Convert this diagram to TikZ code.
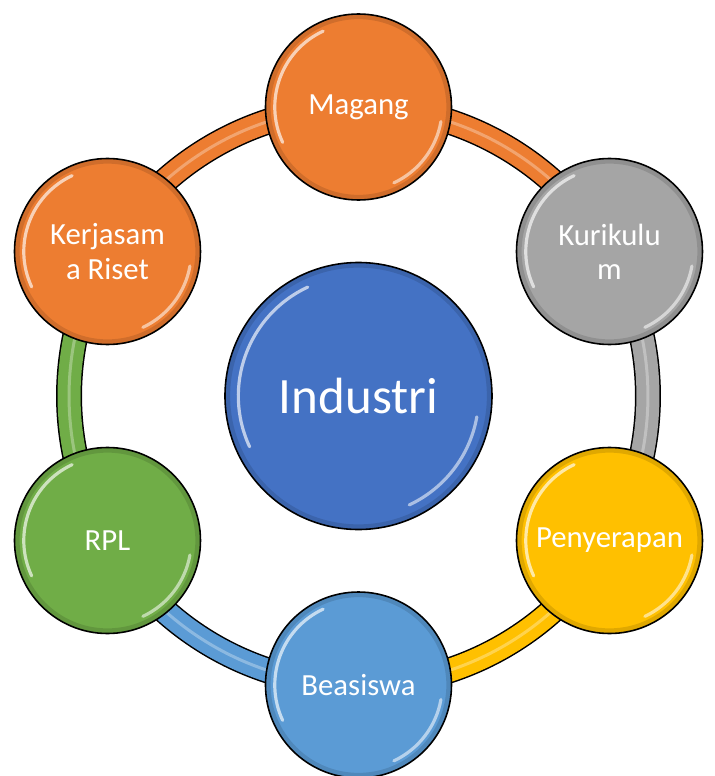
\documentclass[tikz,border=0pt]{standalone}
\usepackage{fontspec}
\setmainfont{Carlito}
\usetikzlibrary{positioning,backgrounds}
\definecolor{indblue}{HTML}{4472C4}
\definecolor{magorange}{HTML}{ED7D31}
\definecolor{kurgray}{HTML}{A5A5A5}
\definecolor{penyellow}{HTML}{FFC000}
\definecolor{beablue}{HTML}{5B9BD5}
\definecolor{rplgreen}{HTML}{70AD47}

\begin{document}
\begin{tikzpicture}[
  bubble/.style n args={2}{circle,draw=black,line width=0.9pt,fill=#2,
    minimum size=2*#1 cm,inner sep=0pt,align=center,text=white,
    path picture={
      \draw[white,opacity=0.65,line width=1.8pt,line cap=round]
        ([shift={(205:0.9*#1)}]path picture bounding box.center) arc (205:115:0.9*#1);
      \draw[white,opacity=0.55,line width=1.8pt,line cap=round]
        ([shift={(-10:0.9*#1)}]path picture bounding box.center) arc (-10:-65:0.9*#1);
      \draw[black,opacity=0.12,line width=3pt]
        (path picture bounding box.center) circle (#1-0.05);
    }},
  small/.style={bubble={1.86}{#1},font=\fontsize{17.5}{19.5}\selectfont},
  band/.style={draw=black,line width=0.52cm,looseness=0.91,
    postaction={draw=#1,line width=0.46cm},
    postaction={draw=white,opacity=0.3,line width=0.06cm}}
]
  \useasboundingbox (-7.17,-7.60) rectangle (7.13,7.92);

  % Center circle
  \node[bubble={2.67}{indblue},font=\fontsize{29}{34}\selectfont] (ind) at (0,0) {Industri};

  % Ring circles
  \node[small=magorange] (mag) at (0,5.78) {Magang};
  \node[small=kurgray] (kur) at (5.02,2.89) {Kurikulu\\m};
  \node[small=penyellow] (pen) at (5.02,-2.89) {Penyerapan};
  \node[small=beablue] (bea) at (0,-5.78) {Beasiswa};
  \node[small=rplgreen] (rpl) at (-5.02,-2.89) {RPL};
  \node[small=magorange] (ker) at (-5.02,2.89) {Kerjasam\\a Riset};

  % Ring segments
  \begin{scope}[on background layer]
    \foreach \a/\b/\c in {mag/kur/magorange,kur/pen/kurgray,pen/bea/penyellow,
                          bea/rpl/beablue,rpl/ker/rplgreen,ker/mag/magorange}
      \draw[band=\c] (\a.center) to[bend left=30] (\b.center);
  \end{scope}

\end{tikzpicture}
\end{document}
